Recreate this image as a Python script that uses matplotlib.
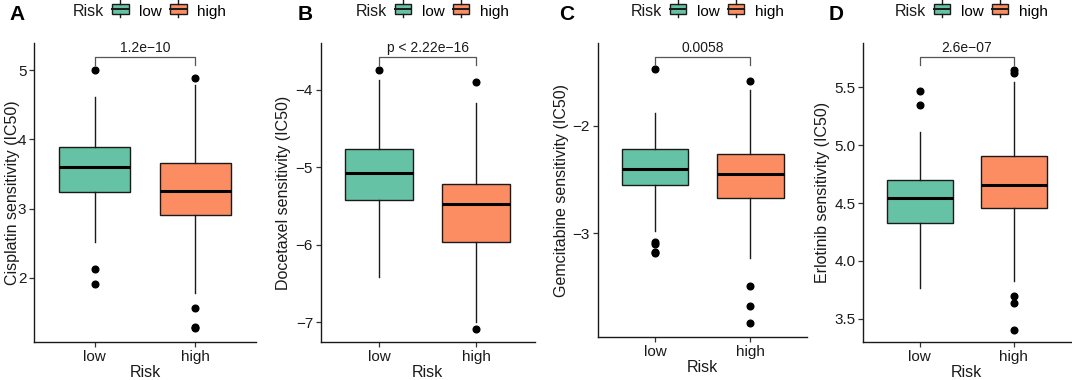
import matplotlib
matplotlib.use("Agg")
import matplotlib.pyplot as plt
from matplotlib.legend_handler import HandlerBase
from matplotlib.patches import Rectangle
from matplotlib.lines import Line2D

plt.rcParams['font.family'] = ['Liberation Sans', 'DejaVu Sans']

groups = ["low", "high"]
colors = ["#66C2A5", "#FC8D62"]
panels = ["A", "B", "C", "D"]
ylabels = ["Cisplatin sensitivity (IC50)", "Docetaxel sensitivity (IC50)",
           "Gemcitabine sensitivity (IC50)", "Erlotinib sensitivity (IC50)"]
pvals = ["1.2e\u221210", "p < 2.22e\u221216", "0.0058", "2.6e\u221207"]

# box stats per panel: [low, high] -> (whislo, q1, med, q3, whishi)
cisplatin = [(2.51, 3.245, 3.60, 3.887, 4.62), (1.78, 2.905, 3.26, 3.665, 4.79)]
docetaxel = [(-6.41, -5.42, -5.08, -4.76, -3.87), (-7.00, -5.97, -5.48, -5.22, -4.17)]
gemcitabine = [(-2.98, -2.553, -2.40, -2.22, -1.88), (-3.23, -2.67, -2.45, -2.26, -1.67)]
erlotinib = [(3.77, 4.33, 4.54, 4.70, 5.11), (3.83, 4.46, 4.66, 4.91, 5.55)]

cisplatin_out = [[5.00, 2.13, 1.91], [4.89, 1.56, 1.28, 1.27]]
docetaxel_out = [[-3.745], [-3.905, -7.09]]
gemcitabine_out = [[-1.47, -3.08, -3.10, -3.18, -3.19], [-1.58, -3.49, -3.68, -3.84]]
erlotinib_out = [[5.47, 5.35], [5.65, 5.62, 3.70, 3.64, 3.40]]

stats_all = [cisplatin, docetaxel, gemcitabine, erlotinib]
out_all = [cisplatin_out, docetaxel_out, gemcitabine_out, erlotinib_out]
bracket_y = [5.19, -3.58, -1.36, 5.76]
ylims = [(1.07, 5.39), (-7.255, -3.40), (-3.97, -1.23), (3.30, 5.88)]
yticks = [[2, 3, 4, 5], [-7, -6, -5, -4], [-3, -2], [3.5, 4.0, 4.5, 5.0, 5.5]]

# axes boxes in pixels: left, right, top, bottom
W, H = 1072, 380
boxes_px = [(34, 256, 43.3, 342), (320.7, 534.8, 43.3, 342),
            (597.7, 807.4, 43.3, 337), (863, 1070.5, 43.3, 342)]
ylab_px = [20, 291, 569, 830]
lab_px = [17.5, 305.5, 567, 836]


class BoxKey(HandlerBase):
    def create_artists(self, legend, orig, xd, yd, width, height, fontsize, trans):
        cx = xd + width / 2
        bw = 12
        bh = height * 0.8
        y0 = yd + (height - bh) / 2
        r = Rectangle((cx - bw / 2, y0), bw, bh, facecolor=orig.get_facecolor(),
                      edgecolor="#1a1a1a", lw=1.0, transform=trans)
        m = Line2D([cx - bw / 2, cx + bw / 2], [y0 + bh / 2] * 2, color="#1a1a1a",
                   lw=1.4, transform=trans)
        w1 = Line2D([cx, cx], [y0 - 2.5, y0], color="#1a1a1a", lw=1.0, transform=trans)
        w2 = Line2D([cx, cx], [y0 + bh, y0 + bh + 2.5], color="#1a1a1a", lw=1.0, transform=trans)
        return [r, m, w1, w2]


fig = plt.figure(figsize=(W / 100, H / 100), dpi=100)

for i in range(4):
    l, r, t, b = boxes_px[i]
    ax = fig.add_axes([l / W, 1 - b / H, (r - l) / W, (b - t) / H])
    stats = []
    for g in range(2):
        lo, q1, med, q3, hi = stats_all[i][g]
        stats.append(dict(whislo=lo, q1=q1, med=med, q3=q3, whishi=hi,
                          fliers=out_all[i][g], label=groups[g]))
    bp = ax.bxp(stats, positions=[1, 2], widths=0.7, patch_artist=True, showcaps=False,
                boxprops=dict(edgecolor="#1a1a1a", lw=1.0),
                whiskerprops=dict(color="#1a1a1a", lw=1.0),
                medianprops=dict(color="black", lw=2.2),
                flierprops=dict(marker="o", markerfacecolor="black", markeredgecolor="black",
                                markersize=4.8))
    for patch, c in zip(bp["boxes"], colors):
        patch.set_facecolor(c)
        patch.set_zorder(2)
    ax.set_xlim(0.4, 2.6)
    ax.set_ylim(*ylims[i])
    ax.set_yticks(yticks[i])
    if i == 3:
        ax.set_yticklabels(["%.1f" % v for v in yticks[i]])
    ax.set_xticks([1, 2])
    ax.set_xticklabels(groups)
    for s in ["top", "right"]:
        ax.spines[s].set_visible(False)
    for s in ["left", "bottom"]:
        ax.spines[s].set_linewidth(1.0)
        ax.spines[s].set_color("#1a1a1a")
    ax.tick_params(labelsize=11, length=3.5, width=0.9, color="#333333", pad=2,
                   labelcolor="#1a1a1a")
    ax.set_xlabel("Risk", fontsize=11.5, labelpad=1, color="#1a1a1a")
    ax.set_ylabel(ylabels[i], fontsize=11.5, color="#1a1a1a")
    ax.yaxis.set_label_coords((ylab_px[i] - l) / (r - l), 0.5)

    # significance bracket
    tip = 0.026 * (ylims[i][1] - ylims[i][0])
    yb = bracket_y[i]
    ax.plot([1, 1, 2, 2], [yb - tip, yb, yb, yb - tip], color="#555555", lw=0.9,
            clip_on=False)
    ax.annotate(pvals[i], (1.5, yb), xytext=(0, 1.5), textcoords="offset points",
                ha="center", va="bottom", fontsize=10, color="#1a1a1a")

    # legend above each panel: title text + boxplot keys
    cx = (l + r) / 2
    fig.text((cx - 72) / W, 1 - 12 / H, "Risk", fontsize=11.5, ha="left", va="center",
             color="#1a1a1a")
    handles = [Rectangle((0, 0), 1, 1, facecolor=c) for c in colors]
    fig.legend(handles, groups, loc="center left",
               bbox_to_anchor=((cx - 33) / W, 1 - 12 / H), ncol=2, frameon=False,
               handler_map={Rectangle: BoxKey()}, fontsize=11, borderpad=0,
               borderaxespad=0, handlelength=1.1, handleheight=0.9, handletextpad=0.7,
               columnspacing=0.5)
    fig.text(lab_px[i] / W, 1 - 14 / H, panels[i], fontsize=15, fontweight="bold",
             ha="center", va="center")

fig.savefig("out.png", dpi=100)
